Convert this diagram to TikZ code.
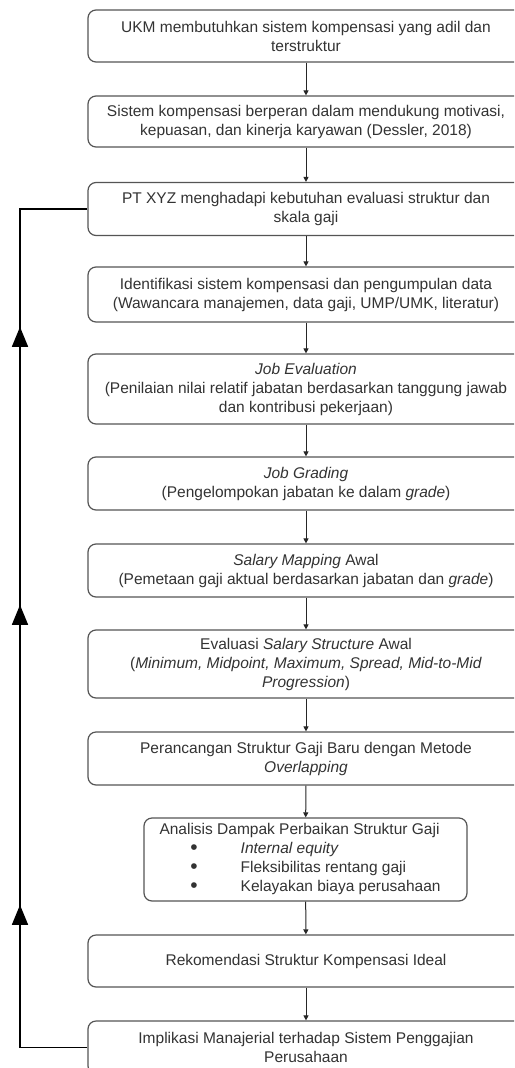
\documentclass[tikz,border=0pt]{standalone}
\usepackage{fontspec}
\setmainfont{Liberation Sans}
\usetikzlibrary{arrows.meta,decorations.markings}
\definecolor{boxline}{HTML}{555555}
\definecolor{txt}{HTML}{333333}
\newcommand{\bigbul}{\raisebox{-0.6pt}{\scalebox{1.35}{\textbullet}}}
\begin{document}
\begin{tikzpicture}[x=1pt,y=-1pt,
  box/.style={draw=boxline, line width=1.2pt, rounded corners=8pt, minimum width=436pt,
    align=center, font=\fontsize{15.5}{19}\selectfont, text=txt, inner sep=0pt},
  flow/.style={draw=black!85, line width=1pt, -{Triangle[width=5pt,length=5pt]}},
  fb/.style={draw=black, line width=1.8pt, postaction={decorate},
    decoration={markings,
      mark=at position 210pt with {\arrow{Triangle[width=16pt,length=20pt]}},
      mark=at position 510pt with {\arrow{Triangle[width=16pt,length=20pt]}},
      mark=at position 788pt with {\arrow{Triangle[width=16pt,length=20pt]}}}}
]
\useasboundingbox (0,0) rectangle (514,1068);
\clip (0,0) rectangle (514,1068);
\fill[white] (0,0) rectangle (514,1068);

\node[box, minimum height=52pt] (b1) at (306,36) {UKM membutuhkan sistem kompensasi yang adil dan\\terstruktur};
\node[box, minimum height=51pt] (b2) at (306,121.5) {Sistem kompensasi berperan dalam mendukung motivasi,\\kepuasan, dan kinerja karyawan (Dessler, 2018)};
\node[box, minimum height=53pt] (b3) at (306,209) {PT XYZ menghadapi kebutuhan evaluasi struktur dan\\skala gaji};
\node[box, minimum height=55pt] (b4) at (306,294.5) {Identifikasi sistem kompensasi dan pengumpulan data\\(Wawancara manajemen, data gaji, UMP/UMK, literatur)};
\node[box, minimum height=70pt] (b5) at (306,389) {\textit{Job Evaluation}\\(Penilaian nilai relatif jabatan berdasarkan tanggung jawab\\dan kontribusi pekerjaan)};
\node[box, minimum height=53pt] (b6) at (306,483.5) {\textit{Job Grading}\\(Pengelompokan jabatan ke dalam \textit{grade})};
\node[box, minimum height=53pt] (b7) at (306,570.5) {\textit{Salary Mapping} Awal\\(Pemetaan gaji aktual berdasarkan jabatan dan \textit{grade})};
\node[box, minimum height=68pt] (b8) at (306,664) {Evaluasi \textit{Salary Structure} Awal\\(\textit{Minimum, Midpoint, Maximum, Spread, Mid-to-Mid}\\\textit{Progression})};
\node[box, minimum height=53pt] (b9) at (306,758.5) {Perancangan Struktur Gaji Baru dengan Metode\\\textit{Overlapping}};
\node[box, minimum width=323pt, minimum height=83pt] (b10) at (305.5,859.5) {%
  \def\arraystretch{1}\begin{tabular}{@{\hspace{32pt}}l@{\hspace{43pt}}l@{\hspace{12pt}}}
  \multicolumn{2}{@{}c@{\hspace{12pt}}}{Analisis Dampak Perbaikan Struktur Gaji}\\
  \bigbul & \textit{Internal equity}\\
  \bigbul & Fleksibilitas rentang gaji\\
  \bigbul & Kelayakan biaya perusahaan
  \end{tabular}};
\node[box, minimum height=52pt] (b11) at (306,961) {Rekomendasi Struktur Kompensasi Ideal};
\node[box, minimum height=53pt] (b12) at (306,1047.5) {Implikasi Manajerial terhadap Sistem Penggajian\\Perusahaan};

\draw[flow] (b1) -- (b2);
\draw[flow] (b2) -- (b3);
\draw[flow] (b3) -- (b4);
\draw[flow] (b4) -- (b5);
\draw[flow] (b5) -- (b6);
\draw[flow] (b6) -- (b7);
\draw[flow] (b7) -- (b8);
\draw[flow] (b8) -- (b9);
\draw[flow] (b9) -- (b10);
\draw[flow] (b10) -- (b11);
\draw[flow] (b11) -- (b12);

\coordinate (fbl) at (20,0);
\draw[fb] (b12.west) -| (fbl |- b3.west) -- (b3.west);
\end{tikzpicture}
\end{document}
